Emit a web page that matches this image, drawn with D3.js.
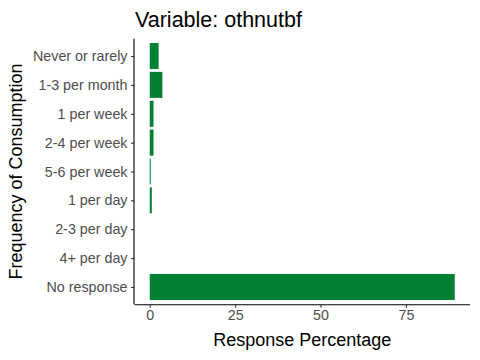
<!DOCTYPE html>
<html><head><meta charset="utf-8">
<script src="https://cdn.jsdelivr.net/npm/d3@7"></script>
<style>body{margin:0;background:#fff}svg{display:block}text{font-family:"Liberation Sans",Arial,sans-serif}</style>
</head><body>
<svg id="c" width="480" height="360"></svg>
<script>
const categories = ["Never or rarely","1-3 per month","1 per week","2-4 per week","5-6 per week","1 per day","2-3 per day","4+ per day","No response"];
const values = [2.6, 3.7, 1.1, 1.1, 0.3, 0.6, 0, 0, 89.3];
const xTicks = [0, 25, 50, 75];
const title = "Variable: othnutbf";
const xTitle = "Response Percentage";
const yTitle = "Frequency of Consumption";

const svg = d3.select("#c");
const L = 134.5, R = 470, T = 38.7, B = 304.3;
const maxV = d3.max(values);
const x = d3.scaleLinear().domain([-maxV*0.05, maxV*1.05]).range([L, R]);
const n = categories.length;
const step = (B - T) / (n - 1 + 1.2);
const y = d3.scalePoint().domain(categories).range([T + 0.6*step, B - 0.6*step]);
const bh = step * 0.9;
const FF = "Liberation Sans, Arial, sans-serif";

svg.append("g").selectAll("rect").data(categories).join("rect")
  .attr("x", (d,i) => x(0))
  .attr("y", d => y(d) - bh/2)
  .attr("width", (d,i) => x(values[i]) - x(0))
  .attr("height", bh)
  .attr("fill", "#008033");

const xa = svg.append("g").attr("transform", `translate(0,${B})`)
  .call(d3.axisBottom(x).tickValues(xTicks).tickSize(3.5).tickPadding(2.5));
xa.attr("font-family", FF);
xa.select(".domain").attr("d", `M${L},0.5H${R}`).attr("stroke", "#000").attr("stroke-width", 1.1);
xa.selectAll(".tick line").attr("stroke", "#333").attr("stroke-width", 1.1);
xa.selectAll(".tick text").attr("fill", "#4D4D4D").attr("font-size", 14.3);

const ya = svg.append("g").attr("transform", `translate(${L},0)`)
  .call(d3.axisLeft(y).tickSize(3.5).tickPadding(3.5));
ya.attr("font-family", FF);
ya.select(".domain").attr("d", `M-0.5,${T}V${B}`).attr("stroke", "#000").attr("stroke-width", 1.1);
ya.selectAll(".tick line").attr("stroke", "#333").attr("stroke-width", 1.1);
ya.selectAll(".tick text").attr("fill", "#4D4D4D").attr("font-size", 14.3);

svg.append("text").attr("x", 135).attr("y", 27).attr("font-size", 21.5).attr("fill", "#000").text(title);
svg.append("text").attr("x", (L+R)/2).attr("y", 346).attr("text-anchor", "middle").attr("font-size", 18).attr("fill", "#000").text(xTitle);
svg.append("text").attr("transform", `translate(21.5,${(T+B)/2}) rotate(-90)`).attr("text-anchor", "middle").attr("font-size", 18).attr("fill", "#000").text(yTitle);
</script>
</body></html>
